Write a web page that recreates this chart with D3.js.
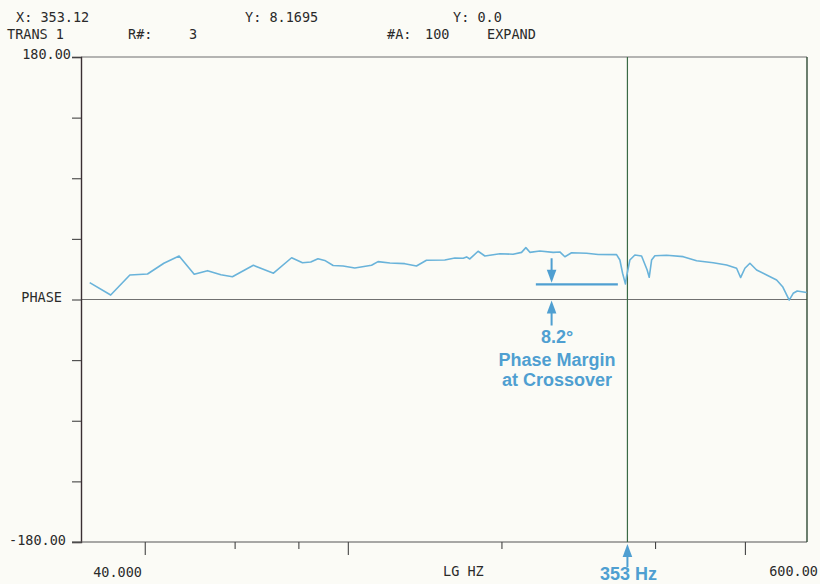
<!DOCTYPE html>
<html>
<head>
<meta charset="utf-8">
<script src="https://cdn.jsdelivr.net/npm/d3@7/dist/d3.min.js"></script>
<style>
  html, body { margin: 0; padding: 0; background: #fbfbf6; }
  svg { display: block; }
  .plot { font-family: "DejaVu Sans Mono", "Liberation Mono", monospace; font-size: 13.5px; fill: #2a2a2a; }
  .note { font-family: "Liberation Sans", Arial, sans-serif; font-weight: bold; font-size: 18px; fill: #4f9fd1; }
</style>
</head>
<body>
<svg id="chart" width="820" height="584"></svg>
<script>
// ---- data ----
const freqHz = [31.2, 34.3, 37.4, 40.5, 43.6, 46.7, 50.0, 53.1, 56.4, 59.4,
  65.3, 71.5, 77.6, 81.5, 84.6, 87.4, 90.1, 93.6, 97.9, 103.2,
  111.3, 114.6, 120.9, 129.3, 136.3, 142.6, 154.9, 162.1, 168.3, 170.9,
  173.4, 180.0, 185.6, 198.6, 210.8, 219.0, 223.3, 227.4, 237.8, 252.6,
  260.3, 266.3, 274.4, 293.7, 309.5, 336.2, 341.3, 345.5, 350.0, 351.7,
  357.0, 365.2, 376.4, 386.0, 389.6, 393.8, 399.7, 421.4, 454.2, 482.5,
  520.0, 552.4, 577.9, 588.4, 600.0, 613.7, 632.5, 661.8, 692.3, 711.3,
  732.8, 746.1, 759.7, 792.6];
const phaseDeg = [12.5, 3.3, 18.2, 18.9, 26.9, 32.3, 18.7, 21.4, 18.4, 16.9,
  25.4, 19.5, 31.0, 27.3, 27.8, 30.3, 29.0, 25.2, 24.9, 23.4,
  25.4, 28.1, 27.1, 26.6, 24.9, 29.1, 29.3, 30.8, 30.6, 31.6,
  30.1, 35.8, 32.3, 34.0, 33.6, 35.0, 38.5, 35.0, 36.0, 35.0,
  35.3, 31.7, 34.7, 34.3, 33.4, 33.3, 29.3, 19.5, 11.5, 16.9,
  29.3, 33.0, 32.3, 21.9, 16.5, 29.3, 32.5, 32.8, 31.8, 28.8,
  27.3, 25.6, 23.2, 16.3, 23.2, 26.9, 21.9, 18.2, 14.5, 9.5,
  -0.4, 4.6, 6.3, 5.2];

const yTicks = [180, 135, 90, 45, 0, -45, -90, -135, -180];
const xMajorTicks = [40, 100, 600];
const xMinorTicks = [60, 80, 200, 400];
const freqDomain = [30, 794];
const phaseDomain = [-180, 180];

const headerRow1 = [["X: 353.12", 16], ["Y: 8.1695", 245], ["Y: 0.0", 453]];
const headerRow2 = [["TRANS 1", 7], ["R#:", 128], ["3", 189], ["#A:", 387], ["100", 425], ["EXPAND", 487]];
const crossoverHz = 353.12;
const marginLineHz = [233.6, 338.2];
const marginLinePhase = 11.3;
const marginArrowHz = 250.8;
const noteLines = ["8.2°", "Phase Margin", "at Crossover"];

// ---- layout ----
const W = 820, H = 584;
const L = 81, R = 807, T = 57, B = 542;
const svg = d3.select("#chart");
svg.append("rect").attr("width", W).attr("height", H).attr("fill", "#fbfbf6");

const x = d3.scaleLog().domain(freqDomain).range([L, R]);
const y = d3.scaleLinear().domain(phaseDomain).range([B, T]);

const g = svg.append("g");

// top border & zero line
g.append("line").attr("x1", L).attr("x2", R).attr("y1", y(180)).attr("y2", y(180))
  .attr("stroke", "#6e6e6e").attr("stroke-width", 1.2);
g.append("line").attr("x1", L).attr("x2", R).attr("y1", y(0)).attr("y2", y(0))
  .attr("stroke", "#707070").attr("stroke-width", 1.2);

// left axis
const yAxis = d3.axisLeft(y).tickValues(yTicks).tickSize(9).tickFormat("");
const ya = g.append("g").attr("transform", `translate(${L},0)`).call(yAxis);
ya.select(".domain").attr("stroke", "#3a2f33").attr("stroke-width", 1.4);
ya.selectAll(".tick line").attr("stroke", "#444").attr("stroke-width", 1.1);

// bottom axis
const xMajor = d3.axisBottom(x).tickValues(xMajorTicks).tickSize(13).tickFormat("");
const xMinor = d3.axisBottom(x).tickValues(xMinorTicks).tickSize(7).tickFormat("");
const xa1 = g.append("g").attr("transform", `translate(0,${B})`).call(xMajor);
const xa2 = g.append("g").attr("transform", `translate(0,${B})`).call(xMinor);
xa2.select(".domain").remove();
xa1.select(".domain").attr("d", `M${L - 9},0H${R}`).attr("stroke", "#555").attr("stroke-width", 1.2);
g.selectAll(".tick line").attr("stroke", "#444").attr("stroke-width", 1.1);

// right border & crossover marker
g.append("line").attr("x1", R).attr("x2", R).attr("y1", T).attr("y2", B)
  .attr("stroke", "#2f4a36").attr("stroke-width", 1.4);
g.append("line").attr("x1", x(crossoverHz)).attr("x2", x(crossoverHz)).attr("y1", T).attr("y2", B)
  .attr("stroke", "#3a6a45").attr("stroke-width", 1.2);

// phase curve
const pts = freqHz.map((f, i) => [f, phaseDeg[i]]);
g.append("path").datum(pts)
  .attr("fill", "none").attr("stroke", "#69b3da").attr("stroke-width", 1.6)
  .attr("stroke-linejoin", "round")
  .attr("d", d3.line().x(d => x(d[0])).y(d => y(d[1])));

// axis text
const plotText = (t, xx, yy, anchor) => svg.append("text").attr("class", "plot")
  .attr("x", xx).attr("y", yy).attr("text-anchor", anchor || "start").text(t);
plotText("180.00", 71, y(180) + 1.5, "end");
plotText("PHASE", 62, y(0) + 2.5, "end");
plotText("-180.00", 66, y(-180) + 3, "end");
plotText("40.000", 142, 577, "end");
plotText("LG HZ", 443, 576);
plotText("600.00", 818, 576, "end");
headerRow1.forEach(([t, xx]) => plotText(t, xx, 22));
headerRow2.forEach(([t, xx]) => plotText(t, xx, 39));

// annotation
const blue = "#4f9fd1";
const arrow = (xx, yTip, yTail) => {
  const dir = yTail > yTip ? 1 : -1;
  const headLen = 13, headW = 4.8;
  svg.append("line").attr("x1", xx).attr("x2", xx)
    .attr("y1", yTip + dir * headLen * 0.8).attr("y2", yTail)
    .attr("stroke", blue).attr("stroke-width", 2);
  svg.append("path")
    .attr("d", `M${xx},${yTip}L${xx - headW},${yTip + dir * headLen}L${xx + headW},${yTip + dir * headLen}Z`)
    .attr("fill", blue);
};
svg.append("line").attr("x1", x(marginLineHz[0])).attr("x2", x(marginLineHz[1]))
  .attr("y1", y(marginLinePhase)).attr("y2", y(marginLinePhase))
  .attr("stroke", blue).attr("stroke-width", 2.2);
const ax = x(marginArrowHz);
arrow(ax, y(marginLinePhase) - 1.5, y(marginLinePhase) - 26);
arrow(ax, y(0) + 1, y(0) + 26);
const noteY = [343, 365.5, 385.5];
noteLines.forEach((t, i) => {
  svg.append("text").attr("class", "note").attr("x", 557).attr("y", noteY[i])
    .attr("text-anchor", "middle").text(t);
});
arrow(x(crossoverHz), B + 2, B + 25);
svg.append("text").attr("class", "note").attr("x", x(crossoverHz) + 1).attr("y", 580)
  .attr("text-anchor", "middle").text("353 Hz");
</script>
</body>
</html>
